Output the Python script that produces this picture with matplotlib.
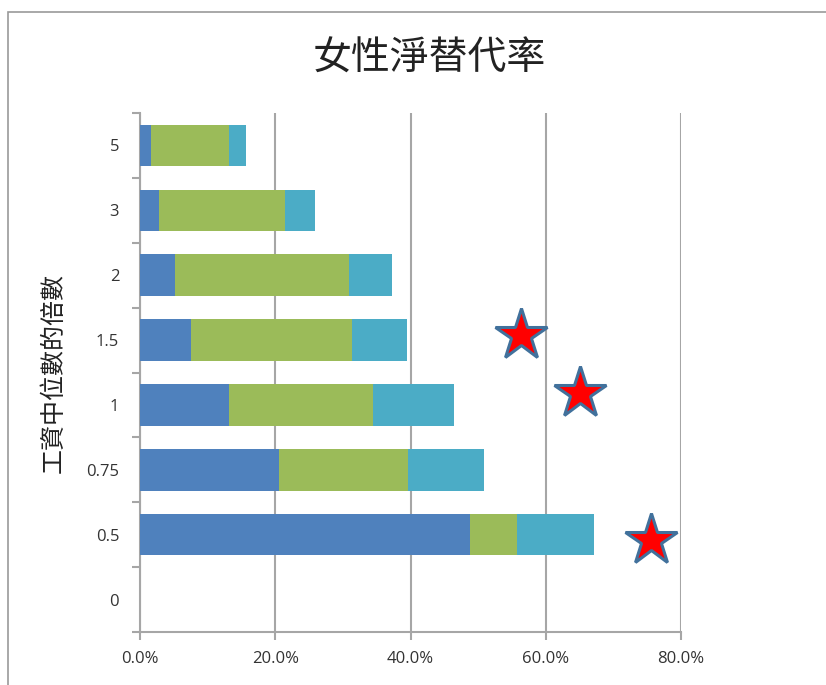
import matplotlib
matplotlib.use("Agg")
import matplotlib.pyplot as plt
from matplotlib.patches import Rectangle
from matplotlib.ticker import FuncFormatter, FixedLocator
import numpy as np

# 中文字体
plt.rcParams['font.family'] = ['Noto Sans CJK TC', 'DejaVu Sans']

# 数据 (百分比，从图中读取)
categories = ['0', '0.5', '0.75', '1', '1.5', '2', '3', '5']
seg_blue = [0.0, 48.8, 20.5, 13.1, 7.6, 5.2, 2.8, 1.6]
seg_green = [0.0, 6.9, 19.1, 21.4, 23.7, 25.7, 18.7, 11.5]
seg_teal = [0.0, 11.5, 11.2, 12.0, 8.2, 6.3, 4.4, 2.6]

# 星标 (值, 类别位置)
star_x = [75.5, 65.0, 56.3]
star_y = [0.92, 3.18, 4.08]

colors = ['#4F81BD', '#9BBB59', '#4BACC6']

fig = plt.figure(figsize=(8.26, 6.85), dpi=100)
ax = fig.add_axes([0.1695, 0.0774, 0.655, 0.7576])

y = np.arange(len(categories))
left = np.zeros(len(categories))
for vals, c in zip([seg_blue, seg_green, seg_teal], colors):
    ax.barh(y, vals, left=left, height=0.64, color=c, zorder=3)
    left = left + np.array(vals)

ax.plot(star_x, star_y, linestyle='none', marker='*', markersize=39,
        markerfacecolor='red', markeredgecolor='#41719C', markeredgewidth=2.2,
        zorder=4)

ax.set_xlim(0, 80)
ax.set_ylim(-0.5, len(categories) - 0.5)
ax.set_xticks([0, 20, 40, 60, 80])
ax.xaxis.set_major_formatter(FuncFormatter(lambda v, p: f"{v:.1f}%"))
ax.set_yticks(y)
ax.set_yticklabels(categories)
ax.yaxis.set_minor_locator(FixedLocator(np.arange(-0.5, len(categories), 1.0)))

ax.grid(axis='x', color='#A6A6A6', linewidth=1.5, zorder=0)
for s in ['top', 'right']:
    ax.spines[s].set_visible(False)
for s in ['left', 'bottom']:
    ax.spines[s].set_color('#A6A6A6')
    ax.spines[s].set_linewidth(1.5)

ax.tick_params(axis='x', length=6, width=1.5, color='#A6A6A6', labelsize=12,
               labelcolor='#333333', pad=8)
ax.tick_params(axis='y', which='major', length=0, labelsize=12,
               labelcolor='#333333', pad=15)
ax.tick_params(axis='y', which='minor', length=6, width=1.5, color='#A6A6A6')
for lab in ax.get_xticklabels() + ax.get_yticklabels():
    lab.set_family(['Open Sans', 'DejaVu Sans'])

ax.set_ylabel('工資中位數的倍數', fontsize=18, color='#222222', labelpad=14)
fig.text(0.52, 0.915, '女性淨替代率', fontsize=28, ha='center', va='center',
         color='#222222')

# 外框
fig.patches.append(Rectangle((0.01, -0.05), 1.05, 0.032 + 0.95 + 0.05,
                             transform=fig.transFigure, fill=False,
                             edgecolor='#9A9A9A', linewidth=1.2))

fig.savefig('out.png', dpi=100)
